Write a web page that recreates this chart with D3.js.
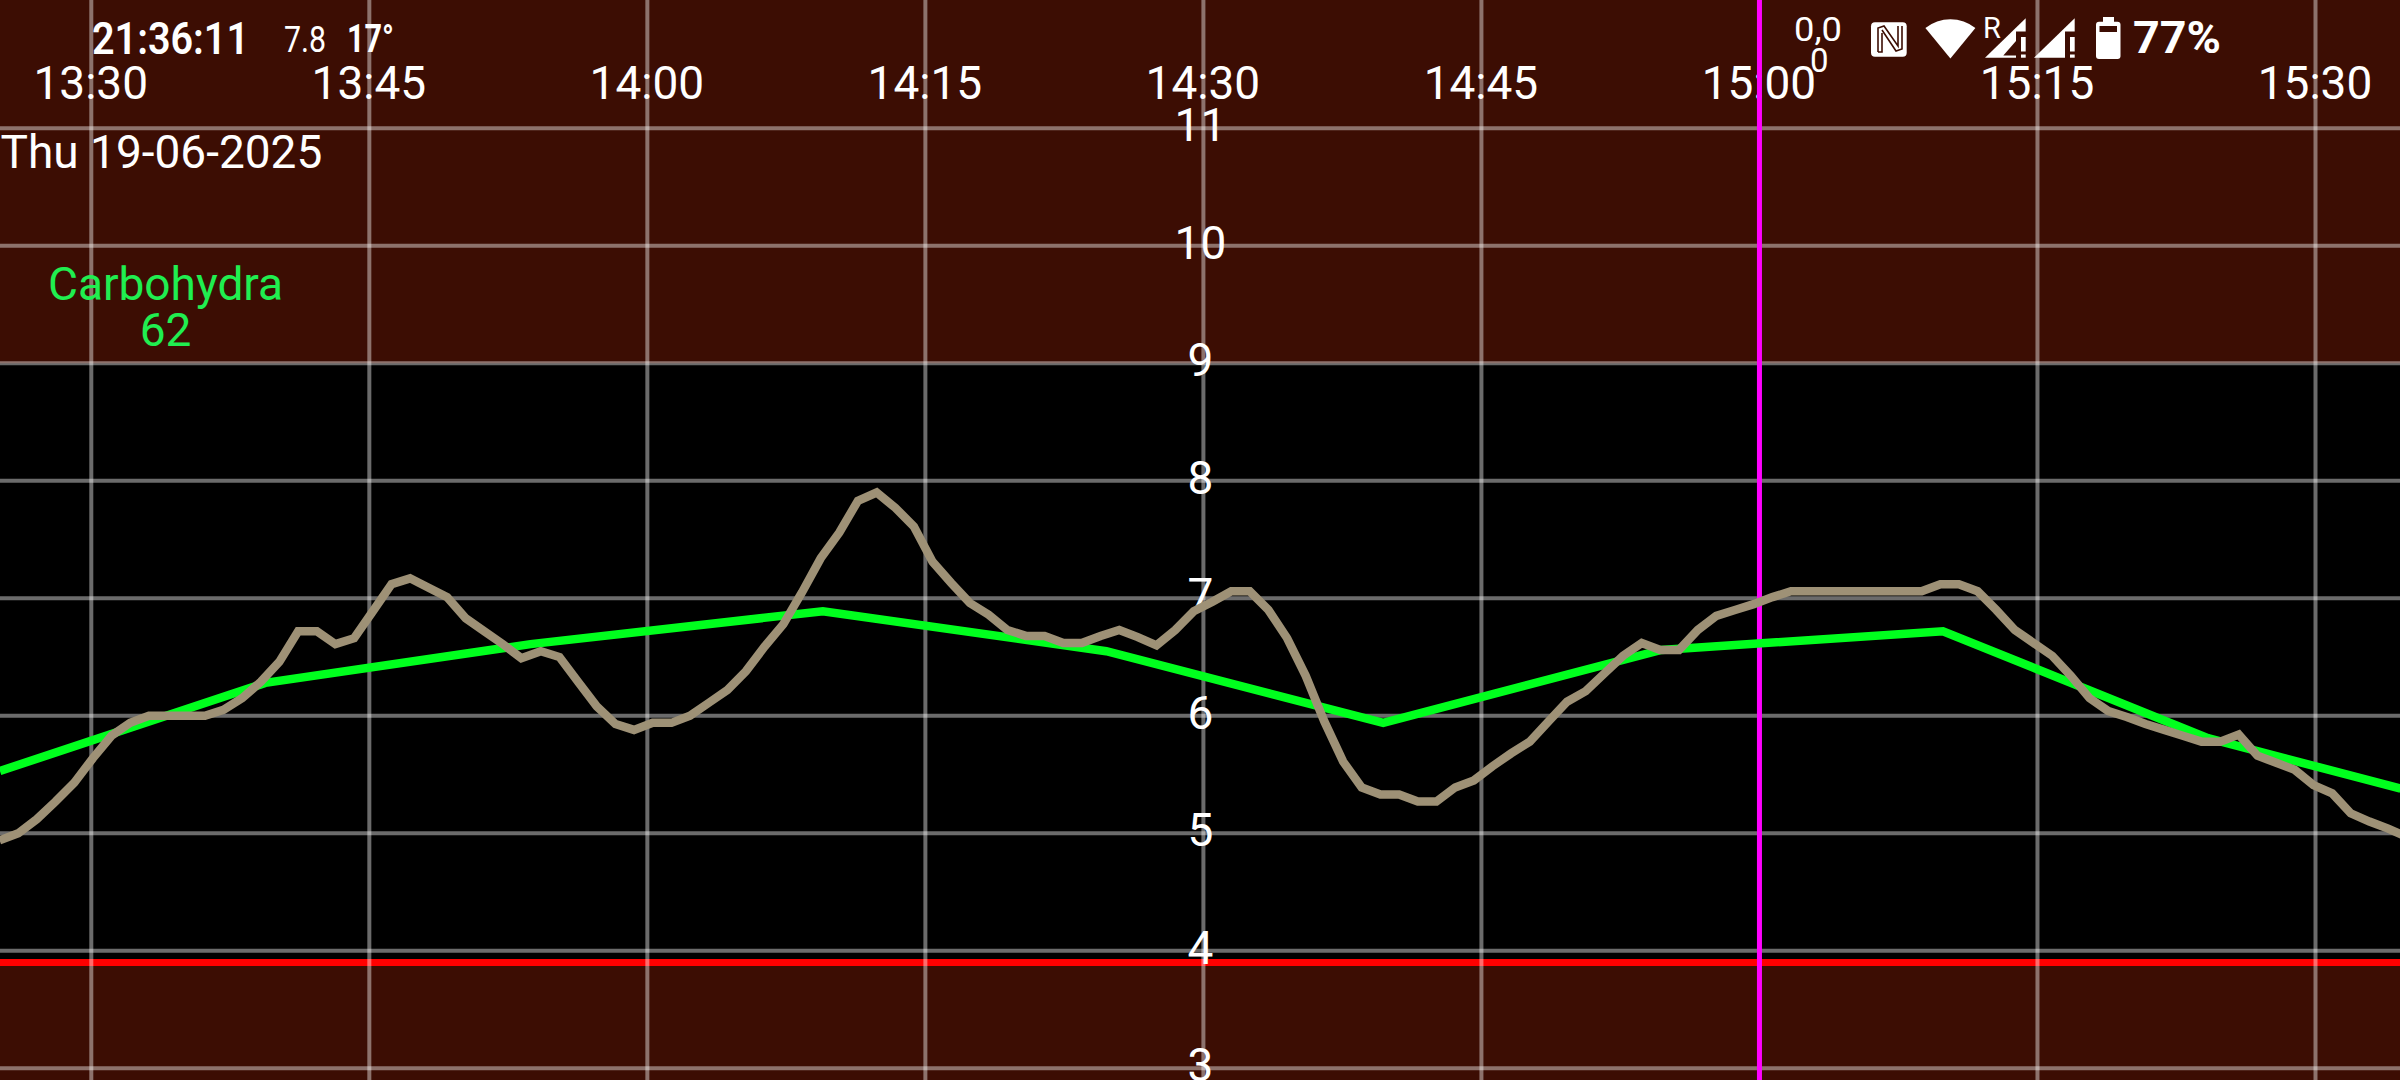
<!DOCTYPE html>
<html>
<head>
<meta charset="utf-8">
<script src="https://d3js.org/d3.v7.min.js"></script>
<style>
html,body{margin:0;padding:0;background:#000;overflow:hidden}
svg{display:block}
text{font-family:Roboto,sans-serif}
</style>
</head>
<body>
<script>
const xTickMinutes = [0,15,30,45,60,75,90,105,120];
const xTickLabels = ["13:30","13:45","14:00","14:15","14:30","14:45","15:00","15:15","15:30"];
const yTicks = [3,4,5,6,7,8,9,10,11];
const highLimit = 9;
const lowLimit = 3.9;
const nowMinute = 90;
const dateLabel = "Thu 19-06-2025";
const carbLabel = "Carbohydra";
const carbValue = "62";

const glucoseMinutes = [-4.95,-3.94,-2.94,-1.93,-0.92,0.09,1.09,2.10,3.11,4.11,5.12,6.13,7.13,8.14,9.15,10.15,
11.16,12.17,13.17,14.18,15.19,16.20,17.20,18.20,19.20,20.20,21.20,22.20,23.20,24.25,25.26,26.26,27.27,28.28,29.28,
30.29,31.30,32.30,33.31,34.32,35.32,36.33,37.34,38.34,39.35,40.36,41.36,42.37,43.38,44.38,45.39,46.40,47.40,48.41,
49.42,50.42,51.43,52.44,53.44,54.45,55.46,56.46,57.47,58.48,59.48,60.49,61.50,62.50,63.51,64.52,65.52,66.53,67.54,
68.54,69.55,70.56,71.57,72.57,73.58,74.59,75.59,76.60,77.61,78.61,79.62,80.63,81.63,82.64,83.65,84.65,85.66,86.67,
87.67,88.68,89.69,90.70,91.70,92.71,93.72,94.72,95.73,96.74,97.74,98.75,99.76,100.76,101.77,102.78,103.78,104.79,
105.80,106.80,107.81,108.82,109.82,110.83,111.84,112.84,113.85,114.86,115.86,116.87,117.88,118.88,119.89,120.90,
121.90,122.91,123.92,124.92];
const glucoseValues = [4.94,5.00,5.12,5.27,5.43,5.64,5.83,5.94,6.00,6.00,6.00,6.00,6.05,6.15,6.29,6.46,
6.72,6.72,6.61,6.66,6.89,7.12,7.17,7.09,7.01,6.83,6.72,6.61,6.49,6.55,6.50,6.29,6.08,5.93,5.88,
5.94,5.94,6.00,6.11,6.22,6.38,6.59,6.78,7.05,7.34,7.56,7.83,7.90,7.77,7.61,7.31,7.13,6.96,6.86,
6.73,6.68,6.68,6.62,6.62,6.68,6.73,6.67,6.60,6.73,6.89,6.97,7.06,7.06,6.90,6.66,6.34,5.95,5.61,
5.39,5.33,5.33,5.27,5.27,5.39,5.45,5.57,5.68,5.78,5.95,6.12,6.21,6.36,6.51,6.62,6.56,6.56,6.73,
6.85,6.90,6.95,7.01,7.06,7.06,7.06,7.06,7.06,7.06,7.06,7.06,7.12,7.12,7.06,6.90,6.73,6.62,
6.51,6.34,6.15,6.04,5.99,5.93,5.88,5.83,5.78,5.78,5.84,5.66,5.60,5.54,5.41,5.34,
5.17,5.10,5.04,4.97];

const trendMinutes = [-4.93,9.39,23.7,39.47,54.76,69.7,84.7,99.9,114.2,124.6];
const trendValues = [5.53,6.28,6.61,6.89,6.55,5.94,6.56,6.72,5.81,5.38];

const W = 2400, H = 1080;
const BROWN = "#3c0d03", WHITE = "#ffffff";
const x = d3.scaleLinear().domain([0,120]).range([91.3,2315.5]);
const y = d3.scaleLinear().domain([3,11]).range([1068.3,128.3]);

const svg = d3.select("body").append("svg").attr("width",W).attr("height",H);
svg.append("rect").attr("width",W).attr("height",H).attr("fill","#000");
svg.append("rect").attr("width",W).attr("height",y(highLimit)).attr("fill",BROWN);
svg.append("rect").attr("y",y(lowLimit)).attr("width",W).attr("height",H-y(lowLimit)).attr("fill",BROWN);

svg.append("line").attr("x1",0).attr("x2",W).attr("y1",y(lowLimit)).attr("y2",y(lowLimit))
  .attr("stroke","#ff0000").attr("stroke-width",7);

const grid = svg.append("g").attr("stroke","#fff").attr("stroke-opacity",0.42).attr("stroke-width",4);
grid.selectAll(".h").data(yTicks).join("line").attr("class","h")
  .attr("x1",0).attr("x2",W).attr("y1",d=>y(d)).attr("y2",d=>y(d));
grid.selectAll(".v").data(xTickMinutes).join("line").attr("class","v")
  .attr("x1",d=>x(d)).attr("x2",d=>x(d)).attr("y1",0).attr("y2",H);

const labels = svg.append("g").attr("fill",WHITE).attr("font-size",46).attr("text-anchor","middle");
labels.selectAll(".xl").data(xTickMinutes).join("text").attr("class","xl")
  .attr("x",d=>x(d)-0.5).attr("y",99).text((d,i)=>xTickLabels[i]);
labels.selectAll(".yl").data(yTicks).join("text").attr("class","yl")
  .attr("x",x(60)-3).attr("y",d=>y(d)+13).text(d=>d);

svg.append("line").attr("x1",x(nowMinute)).attr("x2",x(nowMinute)).attr("y1",0).attr("y2",H)
  .attr("stroke","#ff00ff").attr("stroke-width",5);

svg.append("text").attr("x",0.5).attr("y",168).attr("fill",WHITE).attr("font-size",46).text(dateLabel);
const carb = svg.append("g").attr("fill","#20ee50").attr("font-size",46).attr("text-anchor","middle");
carb.append("text").attr("x",165.5).attr("y",300).text(carbLabel);
carb.append("text").attr("x",165.5).attr("y",346).text(carbValue);

const line = d3.line().curve(d3.curveLinear);
svg.append("path").attr("fill","none").attr("stroke","#00ff1e").attr("stroke-width",8.5).attr("stroke-linejoin","miter")
  .attr("d",line(trendMinutes.map((m,i)=>[x(m),y(trendValues[i])])));
svg.append("path").attr("fill","none").attr("stroke","#9e9176").attr("stroke-width",8.5).attr("stroke-linejoin","miter")
  .attr("d",line(glucoseMinutes.map((m,i)=>[x(m),y(glucoseValues[i])])));

// status bar
const s = svg.append("g").attr("fill",WHITE);
s.append("text").attr("x",92).attr("y",54).attr("font-size",44).attr("font-weight",600).attr("textLength",157).attr("lengthAdjust","spacingAndGlyphs").text("21:36:11");
s.append("text").attr("x",284).attr("y",52).attr("font-size",36).attr("textLength",42).attr("lengthAdjust","spacingAndGlyphs").text("7.8");
s.append("text").attr("x",347).attr("y",52).attr("font-size",38).attr("font-weight",700).attr("textLength",47).attr("lengthAdjust","spacingAndGlyphs").text("17°");
s.append("text").attr("x",1794).attr("y",41).attr("font-size",33).attr("textLength",48).attr("lengthAdjust","spacingAndGlyphs").text("0,0");
s.append("text").attr("x",1810).attr("y",72).attr("font-size",33).text("0");
s.append("text").attr("x",2133).attr("y",53).attr("font-size",45).attr("font-weight",700).attr("textLength",88).attr("lengthAdjust","spacingAndGlyphs").text("77%");
s.append("text").attr("x",1983).attr("y",38).attr("font-size",29).text("R");

// NFC
s.append("rect").attr("x",1871).attr("y",22.3).attr("width",35.7).attr("height",34.4).attr("rx",4);
s.append("path").attr("fill","none").attr("stroke",BROWN).attr("stroke-width",1.6)
  .attr("d","M1878 52V28l6-2 14 20V26M1882 30l14 21 6-2V26M1878 52h4V33");
// WiFi
s.append("path").attr("d","M1950.4 58.5L1925.4 28A40 40 0 0 1 1975.4 28Z");
// signal
function signal(ox,hollow){
  s.append("path").attr("d",`M${ox} 57.7L${ox+40.7} 18.3V57.7Z`);
  s.append("rect").attr("x",ox+31).attr("y",31.5).attr("width",10.5).attr("height",27).attr("fill",BROWN);
  s.append("rect").attr("x",ox+36).attr("y",37).attr("width",4.7).attr("height",14.5);
  s.append("rect").attr("x",ox+36).attr("y",54.5).attr("width",4.7).attr("height",3.2);
  if(hollow) s.append("path").attr("fill",BROWN).attr("d",`M${ox+18.3} 55.5L${ox+31} 41V55.5Z`);
}
signal(1985,true);
signal(2034,false);
// battery
s.append("rect").attr("x",2096).attr("y",21.7).attr("width",24.5).attr("height",37.3).attr("rx",3);
s.append("rect").attr("x",2103).attr("y",17).attr("width",11).attr("height",6);
s.append("rect").attr("x",2099.5).attr("y",26).attr("width",17.5).attr("height",6).attr("fill",BROWN);
</script>
</body>
</html>
